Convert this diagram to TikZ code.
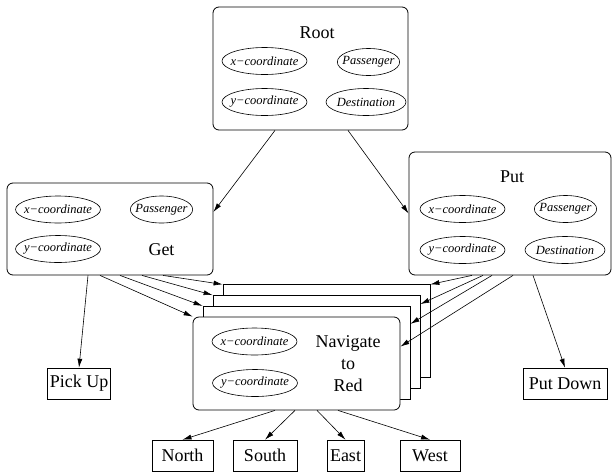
\documentclass[tikz,border=0pt]{standalone}
\usepackage{fontspec}
\setmainfont{Liberation Serif}
\usetikzlibrary{arrows.meta, shapes.geometric}

\begin{document}
\begin{tikzpicture}[x=1pt, y=-1pt, >={Latex[length=9pt,width=5pt]},
    task/.style={draw, rounded corners=6pt, fill=white, line width=0.8pt, inner sep=0pt},
    copybox/.style={draw, fill=white, line width=0.8pt, minimum width=207pt, minimum height=93pt, inner sep=0pt},
    var/.style={draw, ellipse, line width=0.6pt, inner xsep=-4pt, inner ysep=0pt,
        minimum height=27pt, font=\fontsize{12.5}{14}\selectfont\itshape},
    prim/.style={draw, line width=0.6pt, inner xsep=2pt, inner ysep=0pt, minimum height=31pt,
        font=\fontsize{18}{20}\selectfont},
    lbl/.style={font=\fontsize{18}{22}\selectfont, align=center},
    link/.style={->, line width=0.6pt}]
    \useasboundingbox (0,0) rectangle (613,472);

    % Root
    \node[task, minimum width=195pt, minimum height=123pt] (Root) at (310.5,68.5) {};
    \node[lbl] (RootL) at (317,33) {Root};
    \node[var, minimum width=85pt] (RootX) at (264.5,61) {x−coordinate};
    \node[var, minimum width=62pt] (RootP) at (368.5,62) {Passenger};
    \node[var, minimum width=85pt] (RootY) at (264.5,102) {y−coordinate};
    \node[var, minimum width=80pt] (RootD) at (366,102) {Destination};

    % Get
    \node[task, minimum width=206pt, minimum height=92pt] (Get) at (110,229) {};
    \node[var, minimum width=85pt] (GetX) at (58,209.5) {x−coordinate};
    \node[var, minimum width=62pt] (GetP) at (161.5,209.5) {Passenger};
    \node[var, minimum width=85pt] (GetY) at (58,249) {y−coordinate};
    \node[lbl] (GetL) at (161.5,250) {Get};

    % Put
    \node[task, minimum width=202pt, minimum height=123pt] (Put) at (510,213.5) {};
    \node[lbl] (PutL) at (512,177) {Put};
    \node[var, minimum width=85pt] (PutX) at (462.5,209) {x−coordinate};
    \node[var, minimum width=62pt] (PutP) at (565.5,209) {Passenger};
    \node[var, minimum width=85pt] (PutY) at (462.5,250) {y−coordinate};
    \node[var, minimum width=80pt] (PutD) at (565,250) {Destination};

    % Navigate, with its copies behind
    \node[copybox] (Nav3) at (326.5,331.3) {};
    \node[copybox] (Nav2) at (316.5,342) {};
    \node[copybox] (Nav1) at (306.5,352.8) {};
    \node[task, minimum width=207pt, minimum height=93pt] (Nav) at (296.5,363.5) {};
    \node[var, minimum width=85pt] (NavX) at (254.5,341.5) {x−coordinate};
    \node[var, minimum width=85pt] (NavY) at (255,383) {y−coordinate};
    \node[lbl] (NavL) at (348,364) {Navigate\\to\\Red};

    % primitive actions
    \node[prim, minimum width=62pt] (PickUp) at (79,383.5) {Pick Up};
    \node[prim, minimum width=84pt] (PutDown) at (565,383.5) {Put Down};
    \node[prim, minimum width=61pt] (North) at (182.5,455.5) {North};
    \node[prim, minimum width=64pt] (South) at (265,455.5) {South};
    \node[prim, minimum width=37pt] (East) at (345.5,455.5) {East};
    \node[prim, minimum width=60pt] (West) at (430,455.5) {West};

    \draw[link] ([xshift=-35.5pt]Root.south) -- ([yshift=17pt]Get.east);
    \draw[link] ([xshift=37.5pt]Root.south) -- (Put.west);

    \draw[link] ([xshift=-22pt]Get.south) -- (PickUp.north);
    \draw[link] ([xshift=-10pt]Get.south) -- (Nav.north west);
    \draw[link] ([xshift=10pt]Get.south) -- (Nav1.north west);
    \draw[link] ([xshift=32pt]Get.south) -- (Nav2.north west);
    \draw[link] ([xshift=53pt]Get.south) -- (Nav3.north west);

    \draw[link] ([xshift=-38pt]Put.south) -- (Nav3.north east);
    \draw[link] ([xshift=-27pt]Put.south) -- ([yshift=-9pt]Nav2.north east);
    \draw[link] ([xshift=-18pt]Put.south) -- ([yshift=-18pt]Nav1.north east);
    \draw[link] ([xshift=3pt]Put.south) -- ([yshift=-30pt]Nav.north east);
    \draw[link] ([xshift=23pt]Put.south) -- (PutDown.north);

    \draw[link] ([xshift=-21.5pt]Nav.south) -- (North.north);
    \draw[link] ([xshift=-1.5pt]Nav.south) -- (South.north);
    \draw[link] ([xshift=20.5pt]Nav.south) -- (East.north);
    \draw[link] ([xshift=41.5pt]Nav.south) -- (West.north);
\end{tikzpicture}
\end{document}
